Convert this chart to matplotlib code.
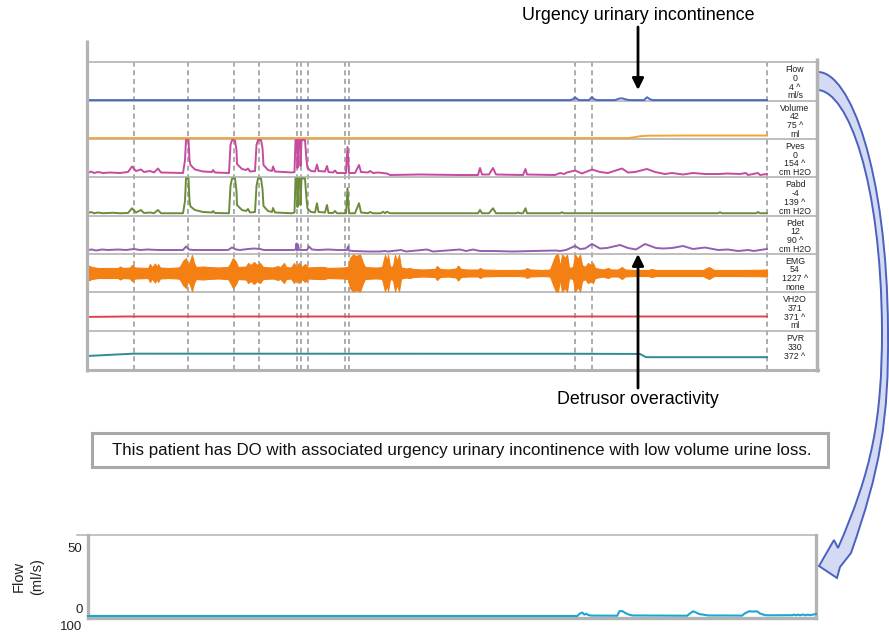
import matplotlib
matplotlib.use("Agg")
import matplotlib.pyplot as plt
import numpy as np
from matplotlib.path import Path
from matplotlib.patches import PathPatch, Rectangle

plt.rcParams['font.family'] = ['Liberation Sans', 'DejaVu Sans']

W, H = 889, 635

# ---- data (time in trace units, value in channel units) ----
flow = [(0, 0.2), (482, 0.2), (485, 0.6), (487, 1.6), (489, 0.8), (491, 0.2), (501, 0.2),
        (504, 1.7), (506, 0.6), (509, 0.2), (527, 0.2), (531, 0.9), (534, 1.1), (538, 0.5),
        (542, 0.2), (556, 0.2), (559, 1.6), (562, 0.6), (565, 0.2), (679, 0.2)]

volume = [(0, 42), (540, 42), (546, 52), (552, 66), (560, 73), (600, 75), (679, 75)]

pves = [(0, 16), (3, 22), (6, 16), (10, 20), (15, 16), (22, 18), (32, 16), (40, 20), (44, 42),
        (48, 24), (53, 30), (56, 20), (62, 24), (66, 18), (70, 34), (73, 18), (95, 16), (97, 68),
        (98, 148), (100.5, 148), (101.5, 68), (102.5, 48), (107, 30), (115, 22), (124, 20),
        (125, 28), (127, 18), (141, 16), (142.5, 128), (144, 148), (147, 146), (148.5, 108),
        (149, 52), (154, 32), (158, 28), (160, 34), (162, 22), (167, 24), (168.5, 128), (170, 148),
        (173, 148), (174.5, 116), (175.5, 48), (180, 28), (184, 24), (185, 42), (187, 22),
        (204, 18), (206.5, 20), (207.5, 148), (209, 148), (209.5, 36), (210.5, 148), (212, 148),
        (212.5, 44), (213.5, 148), (217, 148), (218.5, 68), (219.5, 36), (223, 24), (227, 22),
        (229, 50), (230.5, 24), (237, 22), (239, 44), (240.5, 20), (245, 18), (247, 26), (249, 16),
        (258, 16), (259.5, 120), (261, 16), (267, 16), (271, 48), (273, 20), (280, 18), (282, 24),
        (285, 16), (290, 18), (299, 14), (302, 8), (332, 10), (372, 8), (390, 8), (392, 36),
        (394, 10), (401, 10), (405, 36), (408, 10), (435, 8), (437.5, 32), (439, 10), (467, 8),
        (472, 16), (476, 12), (479, 18), (487, 26), (494, 14), (504, 30), (512, 20), (520, 16),
        (534, 34), (540, 18), (547, 20), (559, 32), (567, 20), (577, 12), (584, 16), (595, 10),
        (605, 16), (617, 12), (632, 12), (639, 14), (652, 12), (658, 16), (660, 8), (670, 16),
        (672, 8), (679, 12)]

pabd = [(0, 12), (3, 16), (6, 11), (10, 14), (15, 11), (25, 13), (32, 11), (40, 12), (44, 31),
        (48, 14), (53, 24), (56, 12), (62, 14), (66, 11), (70, 24), (73, 11), (95, 11), (97, 60),
        (98, 150), (100.5, 150), (101.5, 60), (102.5, 38), (107, 24), (115, 16), (124, 14),
        (125, 20), (127, 12), (141, 11), (142.5, 120), (144, 150), (147, 150), (148.5, 100),
        (149, 44), (154, 24), (158, 20), (160, 28), (162, 14), (167, 16), (168.5, 120), (170, 150),
        (173, 150), (174.5, 108), (175.5, 40), (180, 20), (184, 16), (185, 32), (187, 14),
        (204, 11), (206.5, 14), (207.5, 150), (209, 150), (209.5, 36), (210.5, 150), (212, 150),
        (212.5, 44), (213.5, 150), (217, 150), (218.5, 68), (219.5, 30), (223, 16), (227, 14),
        (229, 51), (230.5, 16), (237, 14), (239, 44), (240.5, 12), (245, 12), (247, 20), (249, 11),
        (258, 11), (259.5, 111), (261, 11), (267, 11), (271, 51), (273, 14), (280, 11), (282, 16),
        (285, 11), (293, 11), (295, 17), (297, 11), (299, 17), (302, 11), (390, 11), (392, 24),
        (394, 11), (401, 11), (405, 31), (408, 11), (428, 11), (430, 14), (432, 11), (435, 11),
        (437.5, 31), (439, 11), (472, 11), (474, 15), (476, 11), (630, 11), (632, 15), (634, 11),
        (668, 11), (670, 16), (672, 11), (679, 11)]

pdet = [(0, 7), (4, 8), (8, 6), (14, 8), (20, 7), (30, 8), (38, 7), (46, 9), (52, 7), (60, 8),
        (70, 7), (95, 7), (98, 14), (101, 8), (105, 7), (140, 7), (144, 12), (148, 8), (152, 7),
        (160, 9), (166, 10), (172, 9), (176, 7), (205, 7), (208, 8), (208.5, 20), (209, 6),
        (210, 18), (211, 7), (219, 7), (221, 14), (224, 8), (230, 7), (240, 8), (250, 7), (259, 7),
        (260, 14), (261, 6), (265, 5), (280, 4), (292, 4), (297, 5), (300, 4), (313, 7), (318, 4),
        (339, 8), (345, 4), (372, 8), (378, 5), (385, 8), (392, 5), (405, 5), (425, 4), (445, 5),
        (468, 6), (472, 5), (478, 7), (487, 15), (492, 9), (497, 10), (504, 19), (512, 10),
        (519, 11), (532, 17), (540, 11), (548, 8), (557, 19), (568, 11), (575, 10), (584, 11),
        (595, 15), (605, 9), (617, 12), (630, 7), (640, 8), (650, 5), (660, 7), (666, 5), (672, 7),
        (679, 9)]

# EMG drawn as an envelope (half-width of the band)
emg = [(0, 75), (4, 60), (10, 50), (30, 50), (32, 65), (35, 50), (42, 55), (44, 80), (47, 55),
       (60, 50), (62, 90), (64, 55), (67, 95), (69, 55), (70, 90), (72, 55), (80, 50), (90, 55),
       (92, 65), (95, 120), (98, 150), (100, 70), (102, 120), (104, 180), (106, 100), (108, 60),
       (115, 65), (120, 60), (130, 55), (140, 60), (142, 90), (145, 150), (148, 110), (150, 60),
       (158, 65), (160, 100), (163, 80), (166, 110), (169, 80), (172, 100), (175, 60), (185, 55),
       (190, 70), (192, 55), (196, 100), (198, 60), (203, 55), (206, 100), (208, 60), (211, 100),
       (214, 60), (217, 90), (220, 55), (230, 60), (236, 60), (240, 50), (255, 55), (260, 60),
       (262, 150), (265, 185), (268, 170), (272, 185), (275, 100), (277, 60), (285, 55), (290, 55),
       (294, 60), (297, 180), (299, 120), (300, 180), (302, 60), (305, 70), (307, 180), (309, 120),
       (311, 180), (313, 55), (318, 45), (322, 50), (325, 40), (335, 35), (347, 40), (349, 70),
       (352, 40), (360, 35), (368, 45), (370, 75), (373, 40), (380, 35), (390, 35), (392, 50),
       (395, 35), (410, 30), (430, 30), (437, 35), (439, 50), (442, 35), (455, 30), (462, 35),
       (466, 140), (468, 185), (470, 185), (472, 60), (474, 185), (477, 150), (479, 185), (481, 50),
       (485, 60), (487, 185), (490, 140), (492, 185), (494, 80), (497, 60), (500, 100), (503, 80),
       (505, 100), (507, 50), (515, 35), (520, 50), (523, 35), (530, 35), (534, 60), (537, 35),
       (545, 30), (560, 30), (564, 40), (568, 30), (600, 30), (615, 30), (621, 60), (626, 30),
       (650, 30), (670, 32), (679, 35)]

vh2o = [(0, 360), (40, 371), (679, 371)]
pvr = [(0, 320), (45, 372), (487, 370), (552, 366), (558, 292), (679, 292)]

events = [46, 100, 146, 171, 209, 213, 220, 257, 261, 487, 504, 679]

channel_labels = [["Flow", "0", "4 ^", "ml/s"],
                  ["Volume", "42", "75 ^", "ml"],
                  ["Pves", "0", "154 ^", "cm H2O"],
                  ["Pabd", "-4", "139 ^", "cm H2O"],
                  ["Pdet", "12", "90 ^", "cm H2O"],
                  ["EMG", "54", "1227 ^", "none"],
                  ["VH2O", "371", "371 ^", "ml"],
                  ["PVR", "330", "372 ^"]]

flow_bottom = [(0, 0), (490, 0), (492, 1.5), (495, 2.5), (497, 1.0), (499, 1.6), (501, 0.7),
               (504, 0.3), (530, 0.2), (532, 3.4), (535, 3.6), (538, 2.2), (541, 1.2), (545, 0.4),
               (600, 0.2), (603, 2.0), (606, 3.4), (609, 2.5), (612, 1.4), (616, 1.0), (621, 0.4),
               (655, 0.3), (658, 2.0), (662, 3.4), (666, 3.2), (670, 3.4), (673, 1.8), (678, 0.6),
               (685, 0.5), (705, 0.6), (707, 1.0), (709, 0.5), (711, 1.0), (713, 0.5), (716, 1.1),
               (718, 0.5), (721, 1.0), (723, 0.6), (726, 1.0), (729, 1.4)]

GRAY = '#b3b3b3'


def fig_box(x0, y0, x1, y1):
    # pixel box (y down) -> figure fraction rect
    return [x0 / W, 1 - y1 / H, (x1 - x0) / W, (y1 - y0) / H]


fig = plt.figure(figsize=(W / 100, H / 100), dpi=100)

row_edges = [62, 100.5, 139, 177, 216, 253.5, 292, 330.5, 370]

# dashed event markers behind the traces
ev = fig.add_axes(fig_box(88, 62, 818, 370), zorder=0)
ev.set_xlim(0, 730)
ev.set_ylim(0, 1)
ev.axis('off')
ev.vlines(events, 0, 1, color='#a6a6a6', lw=1.3, linestyles=(0, (2.8, 2.0)))

rows = [
    (flow, '#4a6cc0', (0, 19)),
    (volume, '#f5a238', (30, 530)),
    (pves, '#c64b9e', (0, 152)),
    (pabd, '#6b8c3a', (0, 156)),
    (pdet, '#9160b0', (0, 75)),
    (emg, '#f47f12', (-190, 195)),
    (vh2o, '#e2414f', (0, 1020)),
    (pvr, '#2e8b8f', (0, 900)),
]

for i, (data, color, ylim) in enumerate(rows):
    ax = fig.add_axes(fig_box(88, row_edges[i], 818, row_edges[i + 1]), zorder=1)
    ax.set_facecolor('none')
    ax.set_xlim(0, 730)
    ax.set_ylim(*ylim)
    ax.set_xticks([])
    ax.set_yticks([])
    for s in ['left', 'right', 'top']:
        ax.spines[s].set_visible(False)
    ax.spines['bottom'].set_color(GRAY)
    ax.spines['bottom'].set_linewidth(2.2 if i == len(rows) - 1 else 1.2)
    if i == 0:
        ax.spines['top'].set_visible(True)
        ax.spines['top'].set_color(GRAY)
        ax.spines['top'].set_linewidth(1.2)
    t = np.array([p[0] for p in data])
    v = np.array([p[1] for p in data])
    if i == 5:
        ax.fill_between(t, -v, v, color=color, lw=0.8, edgecolor=color, zorder=3)
    else:
        ax.plot(t, v, color=color, lw=1.4, clip_on=(i > 1), solid_joinstyle='round', zorder=3)
    fracs = [0.805, 0.577, 0.35, 0.117]
    for line, fy in zip(channel_labels[i], fracs):
        ax.text(707, fy, line, transform=ax.get_xaxis_transform(), ha='center', va='center',
                fontsize=6.3, color='#222222')

# bottom flow panel
bx = fig.add_axes(fig_box(88, 535, 816, 618), zorder=1)
bx.set_xlim(0, 729)
bx.set_ylim(-1.45, 58.7)
bx.set_xticks([])
bx.set_yticks([0, 50])
bx.set_yticklabels(['0', '50'], fontsize=9.5, color='#222222')
bx.get_yticklabels()[0].set_va('bottom')
bx.tick_params(axis='y', length=0, pad=4)
for s, lw in [('left', 2.4), ('right', 2.4), ('bottom', 2.4), ('top', 1.1)]:
    bx.spines[s].set_color(GRAY)
    bx.spines[s].set_linewidth(lw)
bx.set_ylabel('Flow\n(ml/s)', fontsize=10.5, color='#222222', linespacing=1.45)
bx.yaxis.set_label_coords(-0.06, 0.5)
bt = np.array([p[0] for p in flow_bottom])
bv = np.array([p[1] for p in flow_bottom])
bx.plot(bt, bv, color='#1ba6d4', lw=1.5, clip_on=False, zorder=3)

# overlay in pixel coordinates for frame pieces and annotations
ov = fig.add_axes([0, 0, 1, 1], zorder=5)
ov.set_xlim(0, W)
ov.set_ylim(H, 0)
ov.axis('off')

ov.plot([86.5, 86.5], [40, 372], color=GRAY, lw=2.3, solid_capstyle='butt')
ov.plot([817, 817], [58, 372], color=GRAY, lw=2.5, solid_capstyle='butt')
ov.plot([77, 88], [535, 535], color=GRAY, lw=1.1)
ov.text(82, 627, '100', ha='right', va='center', fontsize=9.5, color='#222222')

arrow_kw = dict(arrowstyle='-|>', color='black', lw=2, mutation_scale=17, shrinkA=0, shrinkB=0)
ov.text(638, 15, 'Urgency urinary incontinence', ha='center', va='center', fontsize=12.9)
ov.annotate('', xy=(638, 90), xytext=(638, 27), arrowprops=arrow_kw)
ov.text(638, 400, 'Detrusor overactivity', ha='center', va='center', fontsize=12.8)
ov.annotate('', xy=(638, 254), xytext=(638, 388), arrowprops=arrow_kw)

ov.add_patch(Rectangle((92, 433), 736, 34, facecolor='white', edgecolor='#a8a8a8', lw=2.2))
ov.text(462, 451, 'This patient has DO with associated urgency urinary incontinence with low volume urine loss.',
        ha='center', va='center', fontsize=12.2, color='#111111')

# big curved arrow from the Flow channel down to the flow panel
verts = [(818, 72),
         (850, 72), (887, 170), (888, 330),
         (889, 420), (880, 470), (851, 553),
         (840, 567), (837, 578), (819, 566), (834, 540), (838, 548),
         (872, 470), (882, 420), (882, 330),
         (881, 180), (848, 92), (818, 90),
         (818, 72)]
codes = ([Path.MOVETO] + [Path.CURVE4] * 6 + [Path.LINETO] * 5 + [Path.CURVE4] * 6
         + [Path.CLOSEPOLY])
ov.add_patch(PathPatch(Path(verts, codes), facecolor='#d4daf3', edgecolor='#4a62be', lw=1.4,
                       clip_on=False))

fig.savefig('out.png', dpi=100)
